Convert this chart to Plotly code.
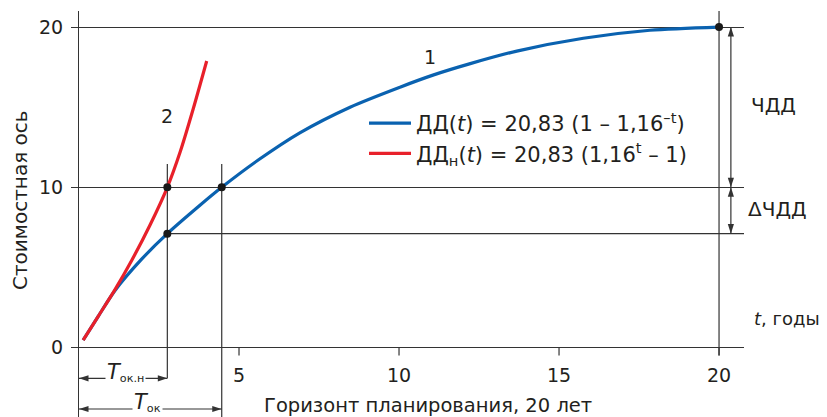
import plotly.graph_objects as go

# --- data ---
blue_t = [0.13, 0.6, 1.12, 1.95, 2.76, 3.78, 4.46, 5.6, 6.9, 8.47, 10.03, 11.06, 12.2, 13.68, 15.76, 17.84, 20.0]
blue_v = [0.46, 1.95, 3.55, 5.5, 7.11, 8.88, 10.0, 11.7, 13.4, 15.0, 16.25, 17.0, 17.7, 18.5, 19.3, 19.8, 20.0]
red_t = [0.13, 0.6, 1.12, 1.65, 2.22, 2.76, 3.16, 3.57, 3.99]
red_v = [0.46, 1.95, 3.6, 5.45, 7.65, 10.0, 12.2, 14.9, 17.88]
pts_t = [2.76, 2.76, 4.46, 20.0]
pts_v = [10.0, 7.11, 10.0, 20.0]
x_ticks = [5, 10, 15, 20]
y_ticks = [0, 10, 20]
t_okn = 2.76      # Т ок.н
t_ok = 4.46       # Т ок
v_low = 7.11      # ДД at Т ок.н
v_mid = 10.0
v_top = 20.0

blue_name = "ДД(<i>t</i>) = 20,83 (1 – 1,16<sup>–t</sup>)"
red_name = "ДД<sub>н</sub>(<i>t</i>) = 20,83 (1,16<sup>t</sup> – 1)"

FONT = "DejaVu Sans"
TXT = "#231f20"
LN = "#333333"
BLUE = "#0a62b0"
RED = "#e8202a"

X0, X1 = 0.0, 20.78
Y0, Y1 = -4.33, 21.0

# page geometry (browser body margin of 8 px is taken into account)
L, T, W, H = 71, 3, 665, 406
FW, FH = 819, 409


def px(sx):
    return (sx - 79) / W


def py(sy):
    return (417 - sy) / H


fig = go.Figure()
fig.add_trace(go.Scatter(x=blue_t, y=blue_v, mode="lines", name=blue_name,
                         line=dict(color=BLUE, width=3.2, shape="spline", smoothing=0.8)))
fig.add_trace(go.Scatter(x=red_t, y=red_v, mode="lines", name=red_name,
                         line=dict(color=RED, width=3.2, shape="spline", smoothing=0.8)))
fig.add_trace(go.Scatter(x=pts_t, y=pts_v, mode="markers", showlegend=False, hoverinfo="skip",
                         marker=dict(color="#1a1a1a", size=8)))

shapes = []


def seg(x0, y0, x1, y1):
    shapes.append(dict(type="line", xref="x", yref="y", x0=x0, y0=y0, x1=x1, y1=y1,
                       line=dict(color=LN, width=1.2), layer="below"))


# guide lines
seg(t_okn, v_low, X1, v_low)
seg(t_okn, -1.92, t_okn, 11.45)
seg(t_ok, Y0, t_ok, 11.45)
seg(20, -0.5, 20, Y1)
for xv in x_ticks:
    seg(xv, 0, xv, -0.5)

# double arrows: line + arrow-head markers
y_arr1, y_arr2, x_arr = -1.92, -3.83, 20.37
seg(0, y_arr1, t_okn, y_arr1)
seg(0, y_arr2, t_ok, y_arr2)
seg(x_arr, v_top, x_arr, v_low)
head_x = [0, t_okn, 0, t_ok, x_arr, x_arr, x_arr, x_arr]
head_y = [y_arr1, y_arr1, y_arr2, y_arr2, v_top, v_mid, v_mid, v_low]
head_a = [-90, 90, -90, 90, 0, 180, 0, 180]
fig.add_trace(go.Scatter(x=head_x, y=head_y, mode="markers", showlegend=False, hoverinfo="skip",
                         cliponaxis=False,
                         marker=dict(symbol="arrow", size=10, angle=head_a, color=LN,
                                     line=dict(width=0))))

ann = []


def text(x, y, s, size, ref="data", **kw):
    d = dict(x=x, y=y, text=s, showarrow=False, xanchor=kw.pop("xanchor", "center"),
             yanchor="middle", font=dict(size=size, color=TXT, family=FONT))
    if ref == "data":
        d.update(xref="x", yref="y")
    else:
        d.update(xref="paper", yref="paper")
    d.update(kw)
    ann.append(d)


for xv in x_ticks:
    text(xv, -1.7, str(xv), 19)

text(1.45, -1.55, "<span style='font-size:21px'><i>T</i></span><sub>ок.н</sub>", 16, bgcolor="white")
text(2.15, -3.45, "<span style='font-size:21px'><i>T</i></span><sub>ок</sub>", 16, bgcolor="white")
text(10.97, 18.1, "1", 19)
text(2.75, 14.45, "2", 19)
text(px(773), py(105), "ЧДД", 20, ref="paper")
text(px(777), py(209), "ΔЧДД", 20, ref="paper")
text(px(752), py(318), "<i>t</i>, годы", 18, ref="paper", xanchor="left")
text(px(20), py(200), "Стоимостная ось", 20, ref="paper", textangle=-90)
text(px(428), py(405), "Горизонт планирования, 20 лет", 19.5, ref="paper")

fig.update_layout(
    width=FW, height=FH, margin=dict(l=L, r=FW - L - W, t=T, b=FH - T - H, autoexpand=False),
    paper_bgcolor="white", plot_bgcolor="white",
    font=dict(family=FONT, color=TXT),
    showlegend=True,
    legend=dict(x=px(364), y=py(103), xanchor="left", yanchor="top",
                bgcolor="rgba(0,0,0,0)", itemwidth=42, tracegroupgap=0,
                font=dict(size=21, color=TXT, family=FONT)),
    shapes=shapes, annotations=ann,
    xaxis=dict(range=[X0, X1], showgrid=False, zeroline=False, showline=False,
               showticklabels=False, ticks=""),
    yaxis=dict(range=[Y0, Y1], tickvals=y_ticks, ticks="outside", ticklen=7, tickcolor=LN,
               tickwidth=1.2, showline=True, linecolor=LN, linewidth=1.2,
               showgrid=True, gridcolor=LN, gridwidth=1.2, zeroline=False,
               ticklabelstandoff=4,
               tickfont=dict(size=19, color=TXT, family=FONT)),
)

fig.write_html("out.html")
